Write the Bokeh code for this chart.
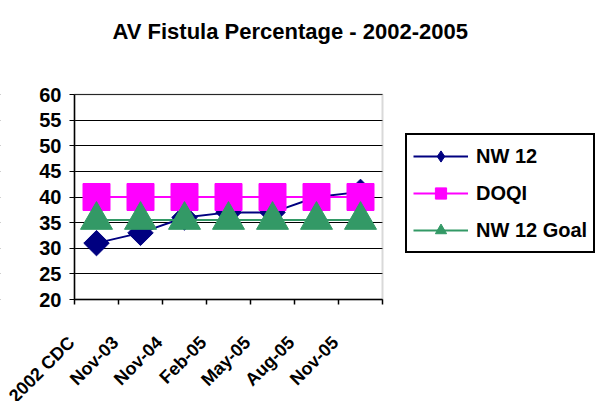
import math
from bokeh.plotting import figure
from bokeh.models import (FixedTicker, Legend, LegendItem, Label, BoxAnnotation, Range1d)
from bokeh.embed import file_html
from bokeh.resources import INLINE

# ---- data ----
categories = ["2002 CDC", "Nov-03", "Nov-04", "Feb-05", "May-05", "Aug-05", "Nov-05"]
nw12 = [31, 33, 36, 37, 37, 40, 41]
doqi = [40, 40, 40, 40, 40, 40, 40]
nw12_goal = [35.5, 35.5, 35.5, 35.5, 35.5, 35.5, 35.5]
y_ticks = [20, 25, 30, 35, 40, 45, 50, 55, 60]
title_text = "AV Fistula Percentage - 2002-2005"

n = len(categories)
xs = [i + 0.5 for i in range(n)]
y0, y1 = y_ticks[0], y_ticks[-1]

FONT = "Liberation Sans"

# ---- layout geometry (pixels); the frame covers the whole canvas ----
W, H = 597, 401
PLOT_LEFT, PLOT_W, PLOT_H, PLOT_TOP = 74, 308, 205, 94
PLOT_BOTTOM = PLOT_TOP + PLOT_H
px_per_x = PLOT_W / n
px_per_y = PLOT_H / (y1 - y0)
x_start = -PLOT_LEFT / px_per_x
x_end = (W - PLOT_LEFT) / px_per_x
y_start = y0 - (H - PLOT_BOTTOM) / px_per_y
y_end = y1 + PLOT_TOP / px_per_y

p = figure(width=W, height=H, output_backend="svg", toolbar_location=None,
           x_range=Range1d(x_start, x_end), y_range=Range1d(y_start, y_end),
           min_border_left=0, min_border_right=0, min_border_top=0,
           min_border_bottom=0)
p.title.visible = False
p.background_fill_color = "white"
p.border_fill_color = "white"
p.outline_line_color = None

# grid
p.xgrid.visible = False
p.ygrid.ticker = FixedTicker(ticks=y_ticks)
p.ygrid.grid_line_color = "black"
p.ygrid.grid_line_width = 1

# cover grid outside the plot area, then the plot-area border
p.add_layout(BoxAnnotation(left=n, fill_color="white", fill_alpha=1, line_color=None,
                           level="underlay"))
p.add_layout(BoxAnnotation(right=0, fill_color="white", fill_alpha=1, line_color=None,
                           level="underlay"))
p.add_layout(BoxAnnotation(left=0, right=n, bottom=y0, top=y1, fill_alpha=0,
                           line_color="#808080", line_width=2, level="underlay"))

# y axis (drawn at x = 0)
ya = p.yaxis[0]
ya.fixed_location = 0
ya.bounds = (y0, y1)
ya.ticker = FixedTicker(ticks=y_ticks)
ya.axis_line_color = "black"
ya.axis_line_width = 1.5
ya.major_tick_line_color = "black"
ya.major_tick_out = 5
ya.major_tick_in = 0
ya.minor_tick_line_color = None
ya.major_label_text_font = FONT
ya.major_label_text_font_style = "bold"
ya.major_label_text_font_size = "20px"
ya.major_label_text_color = "black"
ya.major_label_standoff = 8

# x axis (drawn at y = 20; labels sit near the left edge of each category slot)
label_shift = 0.07
xa = p.xaxis[0]
xa.fixed_location = y0
xa.bounds = (0, n)
xa.ticker = FixedTicker(ticks=[i - label_shift for i in range(n)],
                        minor_ticks=list(range(n + 1)))
xa.major_label_overrides = {i - label_shift: c for i, c in enumerate(categories)}
xa.major_tick_line_color = None
xa.minor_tick_line_color = "black"
xa.minor_tick_line_width = 1.5
xa.minor_tick_out = 5
xa.minor_tick_in = 0
xa.axis_line_color = "black"
xa.axis_line_width = 1.5
xa.major_label_orientation = math.pi / 4
xa.major_label_text_font = FONT
xa.major_label_text_font_style = "bold"
xa.major_label_text_font_size = "18px"
xa.major_label_text_color = "black"
xa.major_label_standoff = 34

# series
navy = "#000080"
magenta = "#FF00FF"
green = "#339966"

# legend key for NW 12 (drawn first, hidden under the rotated squares)
m1_key = p.scatter(xs, nw12, marker="diamond", size=14, fill_color=navy, line_color=navy)
l1 = p.line(xs, nw12, line_color=navy, line_width=2)
m1 = p.scatter(xs, nw12, marker="square", angle=math.pi / 4, size=18,
               fill_color=navy, line_color=navy)
l2 = p.line(xs, doqi, line_color=magenta, line_width=2)
m2 = p.scatter(xs, doqi, marker="square", size=27, fill_color=magenta, line_color=magenta)
l3 = p.line(xs, nw12_goal, line_color=green, line_width=2)
m3 = p.scatter(xs, nw12_goal, marker="triangle", size=32, fill_color=green, line_color=green)

legend = Legend(items=[
    LegendItem(label="NW 12", renderers=[l1, m1_key]),
    LegendItem(label="DOQI", renderers=[l2, m2]),
    LegendItem(label="NW 12 Goal", renderers=[l3, m3]),
], location=(405, H - 253))
legend.border_line_color = "black"
legend.border_line_width = 2
legend.border_line_alpha = 1
legend.background_fill_color = "white"
legend.background_fill_alpha = 1
legend.label_text_font = FONT
legend.label_text_font_style = "bold"
legend.label_text_font_size = "20px"
legend.label_text_color = "black"
legend.glyph_width = 55
legend.glyph_height = 28
legend.label_height = 30
legend.label_standoff = 8
legend.spacing = 7
legend.padding = 6
legend.margin = 0
p.add_layout(legend, "center")

title = Label(x=112, y=H - 31, x_units="screen", y_units="screen", text=title_text,
              text_align="left", text_baseline="alphabetic", text_font=FONT,
              text_font_style="bold", text_font_size="22px", text_color="black")
p.add_layout(title)

open("out.html", "w").write(file_html(p, INLINE))
